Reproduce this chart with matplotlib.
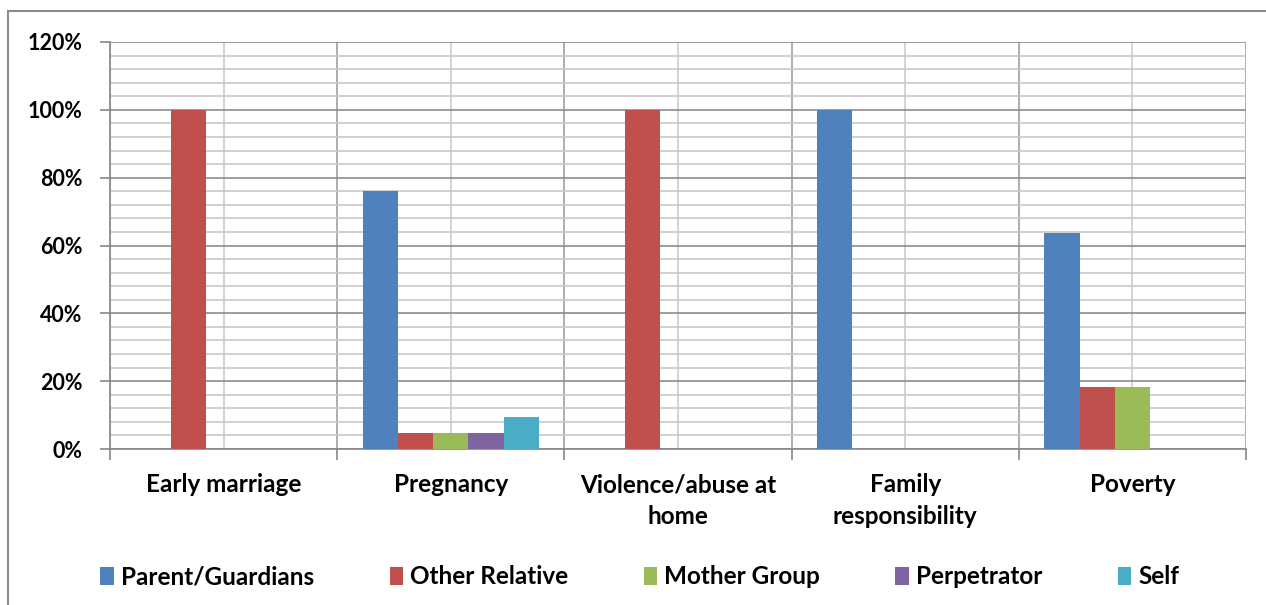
import matplotlib
matplotlib.use("Agg")
import matplotlib.pyplot as plt
import numpy as np
from matplotlib.patches import Rectangle
from matplotlib.ticker import MultipleLocator, PercentFormatter

categories = ["Early marriage", "Pregnancy", "Violence/abuse at\nhome",
              "Family\nresponsibility", "Poverty"]
series_names = ["Parent/Guardians", "Other Relative", "Mother Group",
                "Perpetrator", "Self"]
colors = ["#4F81BD", "#C0504D", "#9BBB59", "#8064A2", "#4BACC6"]

# share of respondents per category (percent)
parent_guardians = [0, 76.2, 0, 100, 63.6]
other_relative = [100, 4.8, 100, 0, 18.2]
mother_group = [0, 4.8, 0, 0, 18.2]
perpetrator = [0, 4.8, 0, 0, 0]
self_ = [0, 9.5, 0, 0, 0]
values = [parent_guardians, other_relative, mother_group, perpetrator, self_]

plt.rcParams["font.family"] = ["Lato", "DejaVu Sans"]
plt.rcParams["font.weight"] = "bold"

fig = plt.figure(figsize=(12.66, 6.05), dpi=100)
ax = fig.add_axes([110 / 1266, 156 / 605, 1136 / 1266, 407 / 605])

x = np.arange(len(categories))
w = 0.155
for i, (name, vals) in enumerate(zip(series_names, values)):
    ax.bar(x + (i - 2) * w, vals, width=w, color=colors[i], label=name,
           zorder=3)

ax.set_xlim(-0.5, len(categories) - 0.5)
ax.set_ylim(0, 120)

# y axis: labelled ticks every 20 %, light lines every 4 %
ax.yaxis.set_major_locator(MultipleLocator(20))
ax.yaxis.set_minor_locator(MultipleLocator(4))
ax.yaxis.set_major_formatter(PercentFormatter(decimals=0))
ax.tick_params(axis="y", which="major", length=7, width=1.2, color="#888888",
               labelsize=15.5, pad=13)
ax.tick_params(axis="y", which="minor", length=0)

# x axis: boundaries as major ticks, names on the centres
ax.set_xticks(np.arange(-0.5, len(categories), 1.0))
ax.set_xticklabels([])
ax.set_xticks(x, minor=True)
ax.set_xticklabels(categories, minor=True, fontsize=17.5, linespacing=1.45,
                   va="top")
ax.tick_params(axis="x", which="major", length=8, width=1.2, color="#888888")
ax.tick_params(axis="x", which="minor", length=0, pad=17.5)

ax.grid(which="major", axis="y", color="#8c8c8c", lw=1.2, zorder=1)
ax.grid(which="minor", axis="y", color="#c8c8c8", lw=1.2, zorder=1)
ax.grid(which="major", axis="x", color="#a0a0a0", lw=1.2, zorder=1)
ax.grid(which="minor", axis="x", color="#cccccc", lw=1.2, zorder=1)

for side in ["top", "right"]:
    ax.spines[side].set_visible(False)
for side in ["left", "bottom"]:
    ax.spines[side].set_color("#888888")
    ax.spines[side].set_linewidth(1.2)

fig.legend(loc="center", bbox_to_anchor=(640 / 1266, 1 - 577 / 605),
           ncol=5, frameon=False, fontsize=17.5, handlelength=0.55,
           handleheight=0.7, handletextpad=0.3, columnspacing=3.1)

# outer chart border
fig.add_artist(Rectangle((8 / 1266, -0.1), 1.2, (605 - 11) / 605 + 0.1,
                         transform=fig.transFigure, fill=False,
                         ec="#8c8c8c", lw=1.5))

fig.savefig("out.png", dpi=100)
